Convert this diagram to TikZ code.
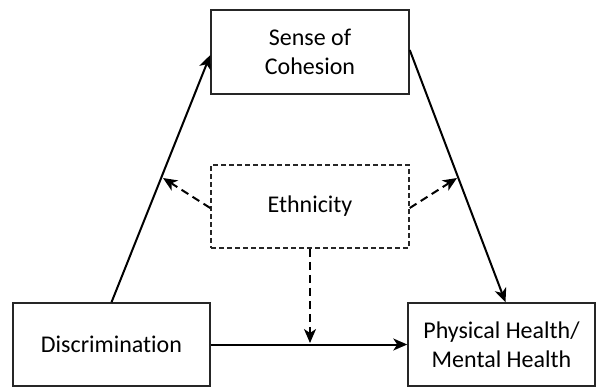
\documentclass[tikz,border=0pt]{standalone}
\usepackage{fontspec}
\setmainfont[Ligatures=NoCommon]{Carlito}
\usetikzlibrary{arrows.meta}

\tikzset{
  factor/.style={draw=black!85, line width=0.75pt, align=center, inner sep=0pt,
                 font=\fontsize{12}{14.5}\selectfont},
  moderator/.style={factor, dash pattern=on 2.5pt off 1.5pt},
  effect/.style={line width=1pt, -{Stealth[length=7pt,width=6pt,inset=2pt]}},
  modeffect/.style={effect, dash pattern=on 4pt off 2.5pt},
}

\begin{document}
\begin{tikzpicture}[x=0.5pt, y=-0.5pt]
                \useasboundingbox (0,0) rectangle (596,387);

                %% boxes
                \node[factor, minimum width=99pt, minimum height=42pt] (soc) at (310,52) {Sense of\\Cohesion};
                \node[moderator, minimum width=99pt, minimum height=41.5pt] (eth) at (310,206.5) {Ethnicity};
                \node[factor, minimum width=98.5pt, minimum height=41.5pt] (disc) at (111.5,344.5) {Discrimination};
                \node[factor, minimum width=93.5pt, minimum height=41.5pt] (phys) at (501.5,344.5) {Physical Health/\\Mental Health};

                %% ends of the moderator arrows
                \coordinate (modl) at (163,178);
                \coordinate (modr) at (457,178);
                \coordinate (modd) at (310,343);

                %% mediation paths
                \draw[effect] (disc.north) -- ([yshift=-1.5pt]soc.west);
                \draw[effect] ([yshift=1pt]soc.east) -- ([xshift=2pt]phys.north);
                \draw[effect] (disc.east) -- (phys.west);

                %% moderation
                \draw[modeffect] ([yshift=-0.75pt]eth.west) -- (modl);
                \draw[modeffect] ([yshift=-0.75pt]eth.east) -- (modr);
                \draw[modeffect] (eth.south) -- (modd);

\end{tikzpicture}
\end{document}
